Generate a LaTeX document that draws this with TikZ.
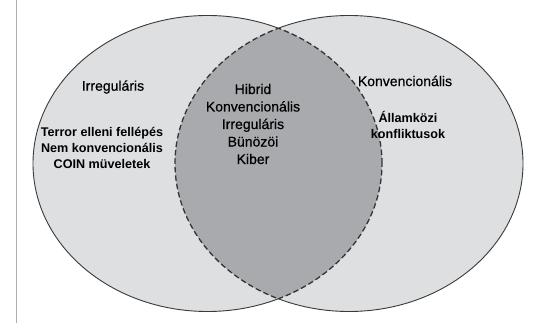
\documentclass[tikz,border=0pt]{standalone}
\usepackage{fontspec}
\setmainfont{Liberation Sans}
\newfontfamily\medfont[FakeBold=0.5]{Liberation Sans}
\definecolor{outerfill}{HTML}{DDDFE1}
\definecolor{lensfill}{HTML}{A8AAAD}
\definecolor{edge}{HTML}{3A3A3A}
\definecolor{frameline}{HTML}{B0B0B0}
\tikzset{
  regtext/.style={font=\medfont\fontsize{14}{17.5}\selectfont, text=black, align=center, inner sep=0pt},
  boldtext/.style={font=\fontsize{12.6}{16}\selectfont\bfseries, text=black, align=center, inner sep=0pt},
  solidedge/.style={draw=edge, line width=0.9pt},
  dashedge/.style={draw=edge!90!black, line width=1.3pt, dash pattern=on 5.5pt off 3pt},
}
\begin{document}
\begin{tikzpicture}[x=1pt,y=1pt]
\useasboundingbox (0,0) rectangle (545,323);
\fill[white] (0,0) rectangle (545,323);
\def\Lell{(207.5,159.5) ellipse [x radius=174.5, y radius=148]}
\def\Rell{(349,159.5) ellipse [x radius=174, y radius=148]}
% frame line at left
\draw[frameline, line width=1pt] (16.5,0) -- (16.5,323);
% outer fills
\fill[outerfill] \Lell;
\fill[outerfill] \Rell;
% lens fill
\begin{scope}
  \clip \Lell;
  \fill[lensfill] \Rell;
\end{scope}
% solid outlines outside the other ellipse
\begin{scope}[even odd rule]
  \clip (-10,-10) rectangle (555,333) \Rell;
  \draw[solidedge] \Lell;
\end{scope}
\begin{scope}[even odd rule]
  \clip (-10,-10) rectangle (555,333) \Lell;
  \draw[solidedge] \Rell;
\end{scope}
% dashed lens boundary
\begin{scope}
  \clip \Lell;
  \draw[dashedge] \Rell;
\end{scope}
\begin{scope}
  \clip \Rell;
  \draw[dashedge] \Lell;
\end{scope}
% texts
\node[regtext] (irrL) at (113,236) {Irreguláris};
\node[boldtext] (leftlist) at (102,175) {Terror elleni fellépés\\Nem konvencionális\\COIN müveletek};
\node[regtext] (center) at (253,199) {Hibrid\\Konvencionális\\Irreguláris\\Bünözöi\\Kiber};
\node[regtext] (konvR) at (405,242) {Konvencionális};
\node[boldtext] (rightlist) at (408,198) {Államközi\\konfliktusok};
\end{tikzpicture}
\end{document}
